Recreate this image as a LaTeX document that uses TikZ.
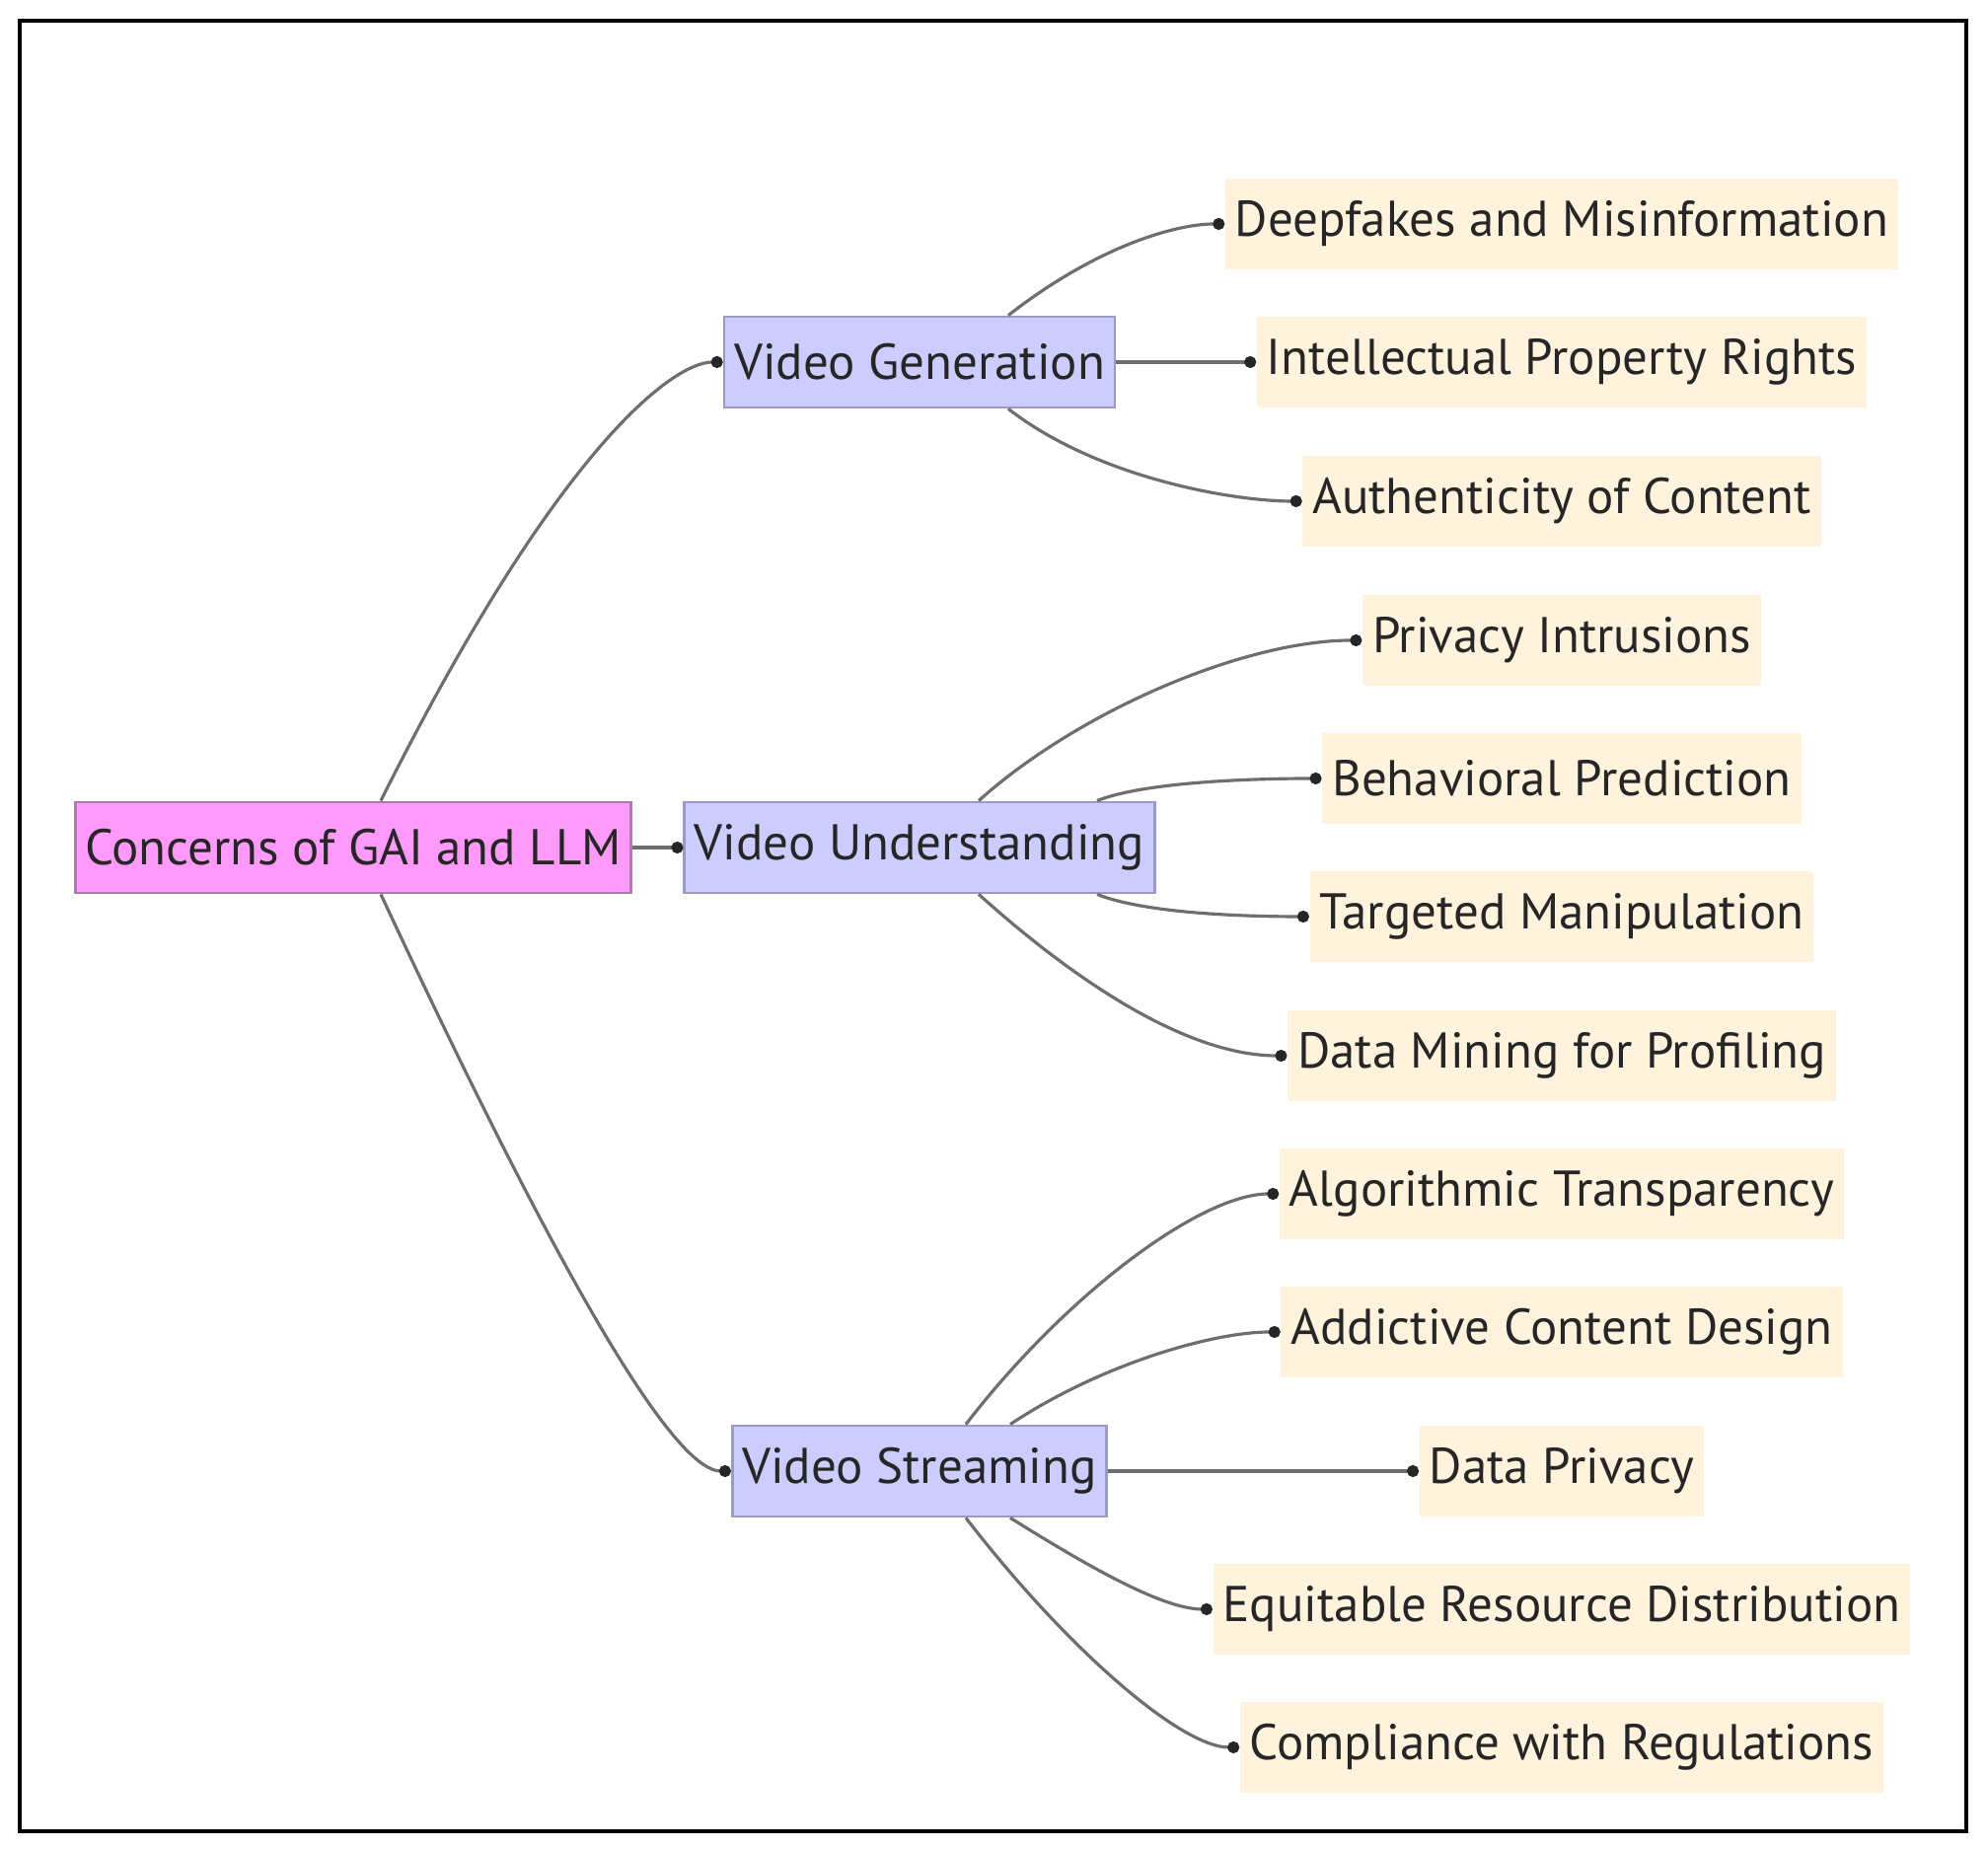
\documentclass[tikz,border=0pt]{standalone}
\usepackage{fontspec}
\setmainfont{PT Sans}
\usetikzlibrary{arrows.meta}
\definecolor{rootpink}{HTML}{FF99FA}
\definecolor{rootedge}{HTML}{B07AB0}
\definecolor{midblue}{HTML}{CCCCFF}
\definecolor{midedge}{HTML}{9A9AC4}
\definecolor{leafcream}{HTML}{FFF3DE}
\definecolor{linegray}{HTML}{6E6E6E}
\definecolor{txtgray}{HTML}{262626}
\begin{document}
\begin{tikzpicture}[
  box/.style={minimum height=0.92cm, inner xsep=0.1cm, inner ysep=0pt,
    text=txtgray, font=\fontsize{14.5}{16}\selectfont},
  rootbox/.style={box, fill=rootpink, draw=rootedge, line width=0.8pt},
  midbox/.style={box, fill=midblue, draw=midedge, line width=0.8pt},
  leafbox/.style={box, fill=leafcream},
  link/.style={draw=linegray, line width=0.9pt, -{Circle[length=1.2mm, color=black!85]}}
]
\useasboundingbox (0,0) rectangle (20.15,18.74);
\draw[line width=0.9pt] (0.20,0.18) rectangle (19.93,18.53);

\node[rootbox] (root) at (3.58,10.15) {Concerns of GAI and LLM};
\node[midbox] (vgen) at (9.32,15.07) {Video Generation};
\node[midbox] (vund) at (9.32,10.15) {Video Understanding};
\node[midbox] (vstr) at (9.32,3.83) {Video Streaming};

\node[leafbox] (deepfakes) at (15.83,16.47) {Deepfakes and Misinformation};
\node[leafbox] (iprights) at (15.83,15.07) {Intellectual Property Rights};
\node[leafbox] (authentic) at (15.83,13.66) {Authenticity of Content};
\node[leafbox] (privacy) at (15.83,12.25) {Privacy Intrusions};
\node[leafbox] (behavior) at (15.83,10.85) {Behavioral Prediction};
\node[leafbox] (targeted) at (15.83,9.45) {Targeted Manipulation};
\node[leafbox] (profiling) at (15.83,8.04) {Data Mining for Profiling};
\node[leafbox] (algorithm) at (15.83,6.64) {Algorithmic Transparency};
\node[leafbox] (addictive) at (15.83,5.24) {Addictive Content Design};
\node[leafbox] (dataprivacy) at (15.83,3.83) {Data Privacy};
\node[leafbox] (equitable) at (15.83,2.43) {Equitable Resource Distribution};
\node[leafbox] (compliance) at (15.83,1.03) {Compliance with Regulations};

\draw[link] ([xshift=2.8mm]root.north) .. controls +(1.8,3.6) and +(-0.5,0) .. (vgen.west);
\draw[link] (root.east) -- (vund.west);
\draw[link] ([xshift=2.8mm]root.south) .. controls +(2.1,-4.5) and +(-0.5,0) .. (vstr.west);

\draw[link] ([xshift=9mm]vgen.north) .. controls +(0.9,0.7) and +(-0.5,0) .. (deepfakes.west);
\draw[link] (vgen.east) -- (iprights.west);
\draw[link] ([xshift=9mm]vgen.south) .. controls +(0.9,-0.7) and +(-0.7,0) .. (authentic.west);

\draw[link] ([xshift=6mm]vund.north) .. controls +(1.0,0.9) and +(-1.2,0) .. (privacy.west);
\draw[link] ([xshift=18mm]vund.north) .. controls +(0.5,0.2) and +(-0.6,0) .. (behavior.west);
\draw[link] ([xshift=18mm]vund.south) .. controls +(0.5,-0.2) and +(-0.6,0) .. (targeted.west);
\draw[link] ([xshift=6mm]vund.south) .. controls +(1.0,-0.9) and +(-1.0,0) .. (profiling.west);

\draw[link] ([xshift=4.7mm]vstr.north) .. controls +(1.0,1.3) and +(-0.8,0) .. (algorithm.west);
\draw[link] ([xshift=9.2mm]vstr.north) .. controls +(0.9,0.6) and +(-0.7,0) .. (addictive.west);
\draw[link] (vstr.east) -- (dataprivacy.west);
\draw[link] ([xshift=9.2mm]vstr.south) .. controls +(0.8,-0.5) and +(-0.5,0) .. (equitable.west);
\draw[link] ([xshift=4.7mm]vstr.south) .. controls +(1.0,-1.3) and +(-0.6,0) .. (compliance.west);
\end{tikzpicture}
\end{document}
